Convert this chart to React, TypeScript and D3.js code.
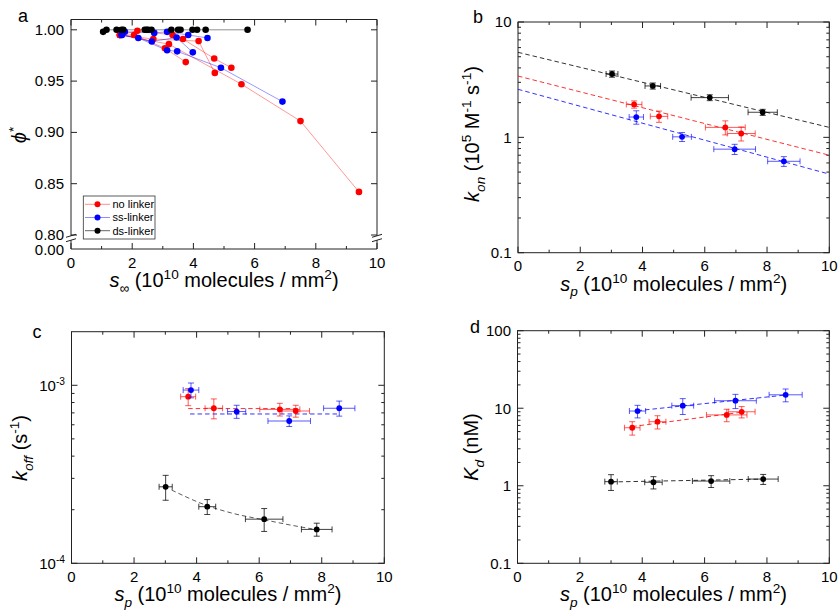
import React from 'react';
import * as d3 from 'd3';

const RED = '#ff0000';
const BLUE = '#0000ff';
const BLACK = '#000000';
const FONT = 'Liberation Sans, Arial, sans-serif';

// ---------- Panel a data ----------
const aRed: number[][][] = [
  [[1.60, 0.995], [2.69, 0.991], [4.17, 0.989], [4.70, 0.958]],
  [[1.60, 0.995], [2.06, 0.995], [3.07, 0.982], [3.75, 0.9685]],
  [[1.60, 0.995], [2.17, 0.999], [3.32, 0.995], [3.66, 0.991], [4.68, 0.972], [5.24, 0.963]],
  [[1.60, 0.995], [3.20, 0.986], [5.57, 0.947], [7.50, 0.911], [9.41, 0.842]],
];
const aBlue: number[][][] = [
  [[1.66, 0.995], [2.20, 0.992], [3.14, 0.980], [3.47, 0.979], [4.90, 0.963], [6.91, 0.930]],
  [[1.76, 0.998], [2.72, 0.997], [3.14, 0.998], [3.83, 0.995], [4.46, 0.992]],
  [[1.66, 0.995], [2.64, 0.9886], [3.45, 0.9925], [3.98, 0.978]],
];
const aBlack: number[][] = [
  [1.05, 0.998], [1.16, 1.0], [1.49, 1.0], [1.65, 1.0], [1.71, 1.0], [2.41, 1.0], [2.47, 1.0],
  [2.52, 1.0], [2.63, 1.0], [3.28, 1.0], [3.50, 1.0], [3.58, 1.0], [3.97, 1.0], [4.12, 1.0],
  [4.40, 1.0], [5.77, 1.0],
];
const aYTicks = [0.80, 0.85, 0.90, 0.95, 1.00];
const legendNames = ['no linker', 'ss-linker', 'ds-linker'];

const xMajors = [0, 2, 4, 6, 8, 10];
const xMinors = [1, 3, 5, 7, 9];

type P = { x: number; y: number; xe: number; ye: number };

// ---------- Panel b (k_on) ----------
const bRed: P[] = [
  { x: 3.73, y: 1.93, xe: 0.25, ye: 0.14 },
  { x: 4.53, y: 1.52, xe: 0.28, ye: 0.17 },
  { x: 6.66, y: 1.22, xe: 0.64, ye: 0.17 },
  { x: 7.17, y: 1.08, xe: 0.45, ye: 0.15 },
];
const bBlue: P[] = [
  { x: 3.80, y: 1.50, xe: 0.23, ye: 0.20 },
  { x: 5.27, y: 1.01, xe: 0.30, ye: 0.09 },
  { x: 6.96, y: 0.79, xe: 0.67, ye: 0.08 },
  { x: 8.54, y: 0.62, xe: 0.52, ye: 0.06 },
];
const bBlack: P[] = [
  { x: 3.02, y: 3.54, xe: 0.19, ye: 0.22 },
  { x: 4.33, y: 2.79, xe: 0.25, ye: 0.17 },
  { x: 6.16, y: 2.21, xe: 0.60, ye: 0.13 },
  { x: 7.86, y: 1.65, xe: 0.47, ye: 0.10 },
];
const bFitRed = [[0, 3.40], [10, 0.70]];
const bFitBlue = [[0, 2.61], [10, 0.48]];
const bFitBlack = [[0, 5.46], [10, 1.22]];

// ---------- Panel c (k_off) ----------
const cRed: P[] = [
  { x: 3.73, y: 8.63e-4, xe: 0.24, ye: 0.95e-4 },
  { x: 4.55, y: 7.43e-4, xe: 0.28, ye: 0.95e-4 },
  { x: 6.66, y: 7.32e-4, xe: 0.64, ye: 0.60e-4 },
  { x: 7.17, y: 7.17e-4, xe: 0.44, ye: 0.55e-4 },
];
const cBlue: P[] = [
  { x: 3.82, y: 9.40e-4, xe: 0.25, ye: 0.90e-4 },
  { x: 5.28, y: 7.12e-4, xe: 0.29, ye: 0.60e-4 },
  { x: 6.96, y: 6.30e-4, xe: 0.68, ye: 0.43e-4 },
  { x: 8.56, y: 7.43e-4, xe: 0.50, ye: 0.72e-4 },
];
const cBlack: P[] = [
  { x: 3.01, y: 2.69e-4, xe: 0.21, ye: 0.43e-4 },
  { x: 4.34, y: 2.08e-4, xe: 0.27, ye: 0.20e-4 },
  { x: 6.16, y: 1.77e-4, xe: 0.60, ye: 0.26e-4 },
  { x: 7.84, y: 1.55e-4, xe: 0.49, ye: 0.13e-4 },
];
const cFitRed = [[3.73, 7.4e-4], [7.3, 7.4e-4]];
const cFitBlue = [[3.79, 6.9e-4], [8.5, 6.9e-4]];
const cFitBlack = [[3.2, 2.58e-4], [4.3, 2.12e-4], [5.2, 1.90e-4], [6.2, 1.75e-4], [7.0, 1.64e-4], [7.7, 1.56e-4]];

// ---------- Panel d (K_d) ----------
const dRed: P[] = [
  { x: 3.68, y: 5.6, xe: 0.25, ye: 1.1 },
  { x: 4.49, y: 6.7, xe: 0.27, ye: 1.3 },
  { x: 6.71, y: 8.2, xe: 0.65, ye: 1.5 },
  { x: 7.19, y: 9.0, xe: 0.43, ye: 1.5 },
];
const dBlue: P[] = [
  { x: 3.85, y: 9.2, xe: 0.26, ye: 1.7 },
  { x: 5.30, y: 10.8, xe: 0.35, ye: 2.5 },
  { x: 6.99, y: 12.5, xe: 0.67, ye: 2.6 },
  { x: 8.60, y: 14.9, xe: 0.53, ye: 2.8 },
];
const dBlack: P[] = [
  { x: 3.00, y: 1.13, xe: 0.20, ye: 0.26 },
  { x: 4.36, y: 1.11, xe: 0.28, ye: 0.20 },
  { x: 6.21, y: 1.15, xe: 0.60, ye: 0.20 },
  { x: 7.88, y: 1.22, xe: 0.48, ye: 0.18 },
];
const dFitRed = [[3.68, 5.8], [7.19, 8.9]];
const dFitBlue = [[3.85, 9.3], [8.6, 14.8]];
const dFitBlack = [[3.0, 1.12], [7.88, 1.22]];

// ---------- helpers ----------
type Seg = { t: string; it?: boolean; sub?: boolean; sup?: boolean };

function Rich({ segs, fs, ...rest }: { segs: Seg[]; fs: number; [k: string]: any }) {
  let shift = 0;
  const spans = segs.map((s, i) => {
    const target = s.sup ? -0.4 * fs : s.sub ? 0.28 * fs : 0;
    const dy = target - shift;
    shift = target;
    return (
      <tspan key={i} dy={dy} fontSize={s.sup || s.sub ? fs * 0.68 : fs} fontStyle={s.it ? 'italic' : 'normal'}>
        {s.t}
      </tspan>
    );
  });
  return (
    <text fontSize={fs} fontFamily={FONT} fill="#000" {...rest}>
      {spans}
    </text>
  );
}

function xTitleSegs(sub: string, subItalic: boolean): Seg[] {
  return [
    { t: 's', it: true },
    { t: sub, sub: true, it: subItalic },
    { t: ' (10' },
    { t: '10', sup: true },
    { t: ' molecules / mm' },
    { t: '2', sup: true },
    { t: ')' },
  ];
}

function logMinors(lo: number, hi: number): number[] {
  const out: number[] = [];
  for (let e = Math.floor(Math.log10(lo)); e <= Math.ceil(Math.log10(hi)); e++) {
    for (let k = 2; k <= 9; k++) {
      const v = k * Math.pow(10, e);
      if (v > lo * 1.0001 && v < hi * 0.9999) out.push(v);
    }
  }
  return out;
}

function XTicks({ x, top, bottom }: any) {
  const els: any[] = [];
  xMajors.forEach((v, i) => {
    const px = x(v);
    els.push(<line key={'M' + i} x1={px} x2={px} y1={bottom} y2={bottom - 6} />);
    els.push(<line key={'Mt' + i} x1={px} x2={px} y1={top} y2={top + 6} />);
  });
  xMinors.forEach((v, i) => {
    const px = x(v);
    els.push(<line key={'m' + i} x1={px} x2={px} y1={bottom} y2={bottom - 3} />);
    els.push(<line key={'mt' + i} x1={px} x2={px} y1={top} y2={top + 3} />);
  });
  return (
    <g stroke="#222" strokeWidth={1}>
      {els}
    </g>
  );
}

function XLabels({ x, bottom }: any) {
  return (
    <g fontFamily={FONT} fontSize={15} textAnchor="middle" fill="#000">
      {xMajors.map((v) => (
        <text key={v} x={x(v)} y={bottom + 18.5}>
          {String(v)}
        </text>
      ))}
    </g>
  );
}

function YTicks({ y, left, right, majors, minors }: any) {
  const els: any[] = [];
  majors.forEach((v: number, i: number) => {
    const py = y(v);
    els.push(<line key={'M' + i} x1={left} x2={left + 6} y1={py} y2={py} />);
    els.push(<line key={'Mr' + i} x1={right} x2={right - 6} y1={py} y2={py} />);
  });
  minors.forEach((v: number, i: number) => {
    const py = y(v);
    els.push(<line key={'m' + i} x1={left} x2={left + 3} y1={py} y2={py} />);
    els.push(<line key={'mr' + i} x1={right} x2={right - 3} y1={py} y2={py} />);
  });
  return (
    <g stroke="#222" strokeWidth={1}>
      {els}
    </g>
  );
}

function ErrPoints({ data, x, y, color }: { data: P[]; x: any; y: any; color: string }) {
  const cap = 3;
  return (
    <g>
      {data.map((d, i) => {
        const px = x(d.x);
        const py = y(d.y);
        const x0 = x(d.x - d.xe);
        const x1 = x(d.x + d.xe);
        const y0 = y(d.y - d.ye);
        const y1 = y(d.y + d.ye);
        return (
          <g key={i}>
            <g stroke={color} strokeWidth={1} strokeOpacity={color === BLACK ? 0.75 : 0.65} fill="none">
              <line x1={x0} x2={x1} y1={py} y2={py} />
              <line x1={x0} x2={x0} y1={py - cap} y2={py + cap} />
              <line x1={x1} x2={x1} y1={py - cap} y2={py + cap} />
              <line x1={px} x2={px} y1={y0} y2={y1} />
              <line x1={px - cap} x2={px + cap} y1={y0} y2={y0} />
              <line x1={px - cap} x2={px + cap} y1={y1} y2={y1} />
            </g>
            <circle cx={px} cy={py} r={2.9} fill={color} />
          </g>
        );
      })}
    </g>
  );
}

function FitLine({ pts, x, y, color, curve }: any) {
  const gen = d3
    .line<number[]>()
    .x((d) => x(d[0]))
    .y((d) => y(d[1]))
    .curve(curve || d3.curveLinear);
  return (
    <path
      d={gen(pts) || ''}
      fill="none"
      stroke={color}
      strokeWidth={1}
      strokeOpacity={0.8}
      strokeDasharray="4.5,3"
    />
  );
}

// ---------- Panels ----------
function PanelA() {
  const left = 71, right = 377, top = 19.5, bottom = 249;
  const x = d3.scaleLinear().domain([0, 10]).range([left, right]);
  const y = d3.scaleLinear().domain([0.8, 1.0]).range([235, 29.8]);
  const yLow = d3.scaleLinear().domain([0, 0.01]).range([bottom, bottom - 8]);
  const line = d3
    .line<number[]>()
    .x((d) => x(d[0]))
    .y((d) => y(d[1]));
  const gapTop = 235.8, gapBot = 240.2;
  const breakMarks = (cx: number) => (
    <g stroke="#222" strokeWidth={1}>
      <line x1={cx - 5} x2={cx + 5} y1={gapTop + 1.5} y2={gapTop - 1.5} />
      <line x1={cx - 5} x2={cx + 5} y1={gapBot + 1.5} y2={gapBot - 1.5} />
    </g>
  );
  const legendColors = [RED, BLUE, BLACK];
  const legendLine = ['#ff8080', '#8080ff', '#555'];
  return (
    <g>
      {/* frame */}
      <g stroke="#222" strokeWidth={1} fill="none">
        <line x1={left} x2={right} y1={top} y2={top} />
        <line x1={left} x2={right} y1={bottom} y2={bottom} />
        <line x1={left} x2={left} y1={top} y2={gapTop} />
        <line x1={left} x2={left} y1={gapBot} y2={bottom} />
        <line x1={right} x2={right} y1={top} y2={gapTop} />
        <line x1={right} x2={right} y1={gapBot} y2={bottom} />
      </g>
      {breakMarks(left)}
      {breakMarks(right)}
      <XTicks x={x} top={top} bottom={bottom} />
      <YTicks y={y} left={left} right={right} majors={aYTicks} minors={[]} />
      <XLabels x={x} bottom={bottom} />
      <g fontFamily={FONT} fontSize={15} textAnchor="end" fill="#000">
        {aYTicks.map((v) => (
          <text key={v} x={left - 7} y={y(v) + 5.0}>
            {d3.format('.2f')(v)}
          </text>
        ))}
        <text x={left - 7} y={yLow(0) + 5.5}>
          {d3.format('.2f')(0)}
        </text>
      </g>
      {/* lines */}
      <g fill="none" strokeWidth={0.9}>
        <path d={line(aBlack) || ''} stroke="#666" strokeOpacity={0.8} />
        {aRed.map((s, i) => (
          <path key={'r' + i} d={line(s) || ''} stroke={RED} strokeOpacity={0.45} />
        ))}
        {aBlue.map((s, i) => (
          <path key={'b' + i} d={line(s) || ''} stroke={BLUE} strokeOpacity={0.45} />
        ))}
      </g>
      {aRed.flat().map((d, i) => (
        <circle key={'rp' + i} cx={x(d[0])} cy={y(d[1])} r={3.3} fill={RED} />
      ))}
      {aBlue.flat().map((d, i) => (
        <circle key={'bp' + i} cx={x(d[0])} cy={y(d[1])} r={3.3} fill={BLUE} />
      ))}
      {aBlack.map((d, i) => (
        <circle key={'kp' + i} cx={x(d[0])} cy={y(d[1])} r={3.3} fill={BLACK} />
      ))}
      {/* legend */}
      <rect x={83.3} y={196} width={71.7} height={43} fill="#fff" stroke="#333" strokeWidth={0.8} />
      {legendNames.map((n, i) => {
        const ly = 204.3 + i * 13.2;
        return (
          <g key={n}>
            <line x1={85} x2={110} y1={ly} y2={ly} stroke={legendLine[i]} strokeWidth={0.9} />
            <circle cx={97.5} cy={ly} r={3} fill={legendColors[i]} />
            <text x={112.5} y={ly + 3.9} fontFamily={FONT} fontSize={11} fill="#000">
              {n}
            </text>
          </g>
        );
      })}
      {/* titles */}
      <text x={23} y={22} fontFamily={FONT} fontSize={18} textAnchor="middle">
        a
      </text>
      <Rich segs={xTitleSegs('∞', false)} fs={20} x={(left + right) / 2} y={bottom + 38} textAnchor="middle" />
      <Rich
        segs={[{ t: 'ϕ', it: true }, { t: '*', sup: true }]}
        fs={20}
        textAnchor="middle"
        transform="translate(26,135) rotate(-90)"
      />
    </g>
  );
}

function LogPanel(props: {
  left: number; right: number; top: number; bottom: number;
  domain: [number, number]; majors: number[]; majorLabels: Seg[][];
  label: string; labelX: number; labelY: number;
  yTitle: Seg[]; yTitlePos: [number, number];
  series: { data: P[]; color: string }[];
  fits: { pts: number[][]; color: string; curve?: any }[];
}) {
  const { left, right, top, bottom, domain } = props;
  const x = d3.scaleLinear().domain([0, 10]).range([left, right]);
  const y = d3.scaleLog().domain(domain).range([bottom, top]);
  const minors = logMinors(domain[0], domain[1]);
  return (
    <g>
      <rect x={left} y={top} width={right - left} height={bottom - top} fill="none" stroke="#222" strokeWidth={1} />
      <XTicks x={x} top={top} bottom={bottom} />
      <YTicks y={y} left={left} right={right} majors={props.majors} minors={minors} />
      <XLabels x={x} bottom={bottom} />
      {props.majors.map((v, i) => (
        <Rich key={i} segs={props.majorLabels[i]} fs={15} x={left - 6.5} y={y(v) + 5.3} textAnchor="end" />
      ))}
      {props.fits.map((f, i) => (
        <FitLine key={i} pts={f.pts} x={x} y={y} color={f.color} curve={f.curve} />
      ))}
      {props.series.map((s, i) => (
        <ErrPoints key={i} data={s.data} x={x} y={y} color={s.color} />
      ))}
      <text x={props.labelX} y={props.labelY} fontFamily={FONT} fontSize={18} textAnchor="middle">
        {props.label}
      </text>
      <Rich segs={xTitleSegs('p', true)} fs={20} x={(left + right) / 2} y={bottom + 38} textAnchor="middle" />
      <Rich
        segs={props.yTitle}
        fs={20}
        textAnchor="middle"
        transform={`translate(${props.yTitlePos[0]},${props.yTitlePos[1]}) rotate(-90)`}
      />
    </g>
  );
}

export default function App() {
  return (
    <div style={{ position: 'absolute', left: 0, top: 0 }}>
      <svg width={839} height={612} viewBox="0 0 839 612" style={{ display: 'block', background: '#fff' }}>
        <rect x={0} y={0} width={839} height={612} fill="#fff" />
        <PanelA />
        <LogPanel
          left={518} right={829.3} top={22} bottom={252.7}
          domain={[0.1, 10]}
          majors={[0.1, 1, 10]}
          majorLabels={[[{ t: '0.1' }], [{ t: '1' }], [{ t: '10' }]]}
          label="b" labelX={478} labelY={23}
          yTitle={[
            { t: 'k', it: true }, { t: 'on', it: true, sub: true }, { t: ' (10' }, { t: '5', sup: true },
            { t: ' M' }, { t: '-1', sup: true }, { t: ' s' }, { t: '-1', sup: true }, { t: ')' },
          ]}
          yTitlePos={[479, 134]}
          series={[{ data: bBlack, color: BLACK }, { data: bRed, color: RED }, { data: bBlue, color: BLUE }]}
          fits={[{ pts: bFitBlack, color: BLACK }, { pts: bFitRed, color: RED }, { pts: bFitBlue, color: BLUE }]}
        />
        <LogPanel
          left={71.5} right={384.3} top={331.7} bottom={563.3}
          domain={[1e-4, 2e-3]}
          majors={[1e-4, 1e-3]}
          majorLabels={[[{ t: '10' }, { t: '-4', sup: true }], [{ t: '10' }, { t: '-3', sup: true }]]}
          label="c" labelX={37} labelY={338}
          yTitle={[{ t: 'k', it: true }, { t: 'off', it: true, sub: true }, { t: ' (s' }, { t: '-1', sup: true }, { t: ')' }]}
          yTitlePos={[27, 448]}
          series={[{ data: cBlack, color: BLACK }, { data: cRed, color: RED }, { data: cBlue, color: BLUE }]}
          fits={[
            { pts: cFitBlack, color: '#333', curve: d3.curveMonotoneX },
            { pts: cFitRed, color: RED },
            { pts: cFitBlue, color: BLUE },
          ]}
        />
        <LogPanel
          left={517.5} right={829.3} top={330.7} bottom={563.3}
          domain={[0.1, 100]}
          majors={[0.1, 1, 10, 100]}
          majorLabels={[[{ t: '0.1' }], [{ t: '1' }], [{ t: '10' }], [{ t: '100' }]]}
          label="d" labelX={475} labelY={333}
          yTitle={[{ t: 'K', it: true }, { t: 'd', it: true, sub: true }, { t: ' (nM)' }]}
          yTitlePos={[478, 447]}
          series={[{ data: dBlack, color: BLACK }, { data: dRed, color: RED }, { data: dBlue, color: BLUE }]}
          fits={[{ pts: dFitBlack, color: BLACK }, { pts: dFitRed, color: RED }, { pts: dFitBlue, color: BLUE }]}
        />
      </svg>
    </div>
  );
}
